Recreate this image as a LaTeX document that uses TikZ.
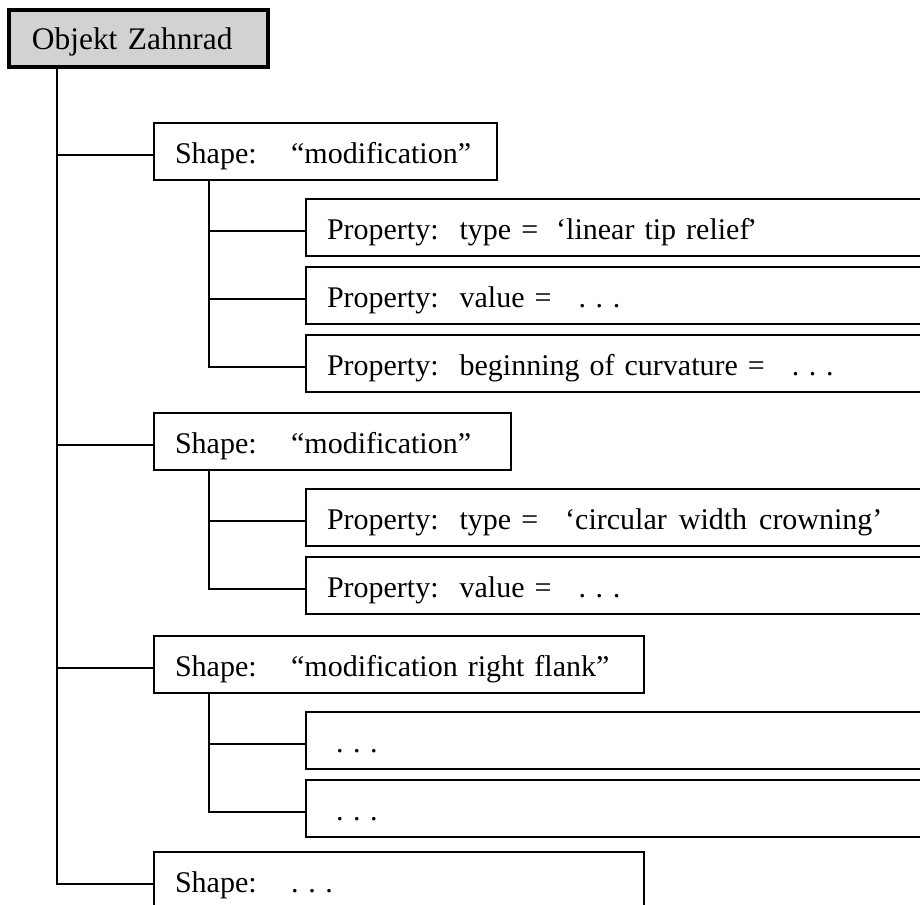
\documentclass[tikz,border=0pt]{standalone}
\usepackage{fontspec}
\setmainfont{Liberation Serif}
\usepackage{tikz}
\usetikzlibrary{positioning}
\newcommand{\sdots}{.\kern0.32em.\kern0.32em.}
\tikzset{
    treebox/.style={draw, line width=1pt, anchor=north west, outer sep=0pt, inner xsep=10.5pt, inner ysep=0pt, minimum height=28.5pt, text height=11.5pt, text depth=0pt, align=left, font=\fontsize{15pt}{18pt}\selectfont},
    rootbox/.style={treebox, line width=2pt, fill=gray!35, inner xsep=11.5pt, text width=106.5pt, font=\fontsize{15.7pt}{18pt}\selectfont},
    shapebox/.style={treebox, text width=#1},
    propbox/.style={treebox, text width=306pt},
    link/.style={line width=1pt},
}
\begin{document}
\begin{tikzpicture}[x=0.5pt, y=-0.5pt]
    \useasboundingbox (0,0) rectangle (920,904);
    \clip (0,0) rectangle (920,904);

    % Root
    \node[rootbox] (root) at (9,10) {Objekt Zahnrad};

    % Shapes
    \node[shapebox=150.5pt] (s1) at (154,123) {Shape:\hspace{1.15em}“modification”};
    \node[shapebox=157.5pt] (s2) at (154,413) {Shape:\hspace{1.15em}“modification”};
    \node[shapebox=224pt] (s3) at (154,636) {Shape:\hspace{1.15em}“modification right flank”};
    \node[shapebox=224pt] (s4) at (154,852) {Shape:\hspace{1.15em}\sdots};

    % Properties
    \node[propbox] (p11) at (306,199) {Property:\hspace{0.7em}type =\hspace{0.6em}‘linear tip relief\kern-0.08em’};
    \node[propbox] (p12) at (306,267) {Property:\hspace{0.7em}value =\hspace{0.9em}\sdots};
    \node[propbox] (p13) at (306,335) {Property:\hspace{0.7em}beginning of curvature =\hspace{0.9em}\sdots};
    \node[propbox] (p21) at (306,489) {Property:\hspace{0.7em}type =\hspace{0.9em}‘circular\hspace{0.4em}width\hspace{0.4em}crowning’};
    \node[propbox] (p22) at (306,557) {Property:\hspace{0.7em}value =\hspace{0.9em}\sdots};
    \node[propbox] (p31) at (306,712) {\hspace*{4.5pt}\sdots};
    \node[propbox] (p32) at (306,780) {\hspace*{4.5pt}\sdots};

    % Connectors
    \coordinate (t0) at ([xshift=24pt]root.south west);
    \foreach \b in {s1,s2,s3,s4}
        \draw[link] (t0) |- ([yshift=-1.75pt]\b.west);
    \coordinate (t1) at ([xshift=27.5pt]s1.south west);
    \foreach \b in {p11,p12,p13}
        \draw[link] (t1) |- ([yshift=-1.75pt]\b.west);
    \coordinate (t2) at ([xshift=27.5pt]s2.south west);
    \foreach \b in {p21,p22}
        \draw[link] (t2) |- ([yshift=-1.75pt]\b.west);
    \coordinate (t3) at ([xshift=27.5pt]s3.south west);
    \foreach \b in {p31,p32}
        \draw[link] (t3) |- ([yshift=-1.75pt]\b.west);
\end{tikzpicture}
\end{document}
